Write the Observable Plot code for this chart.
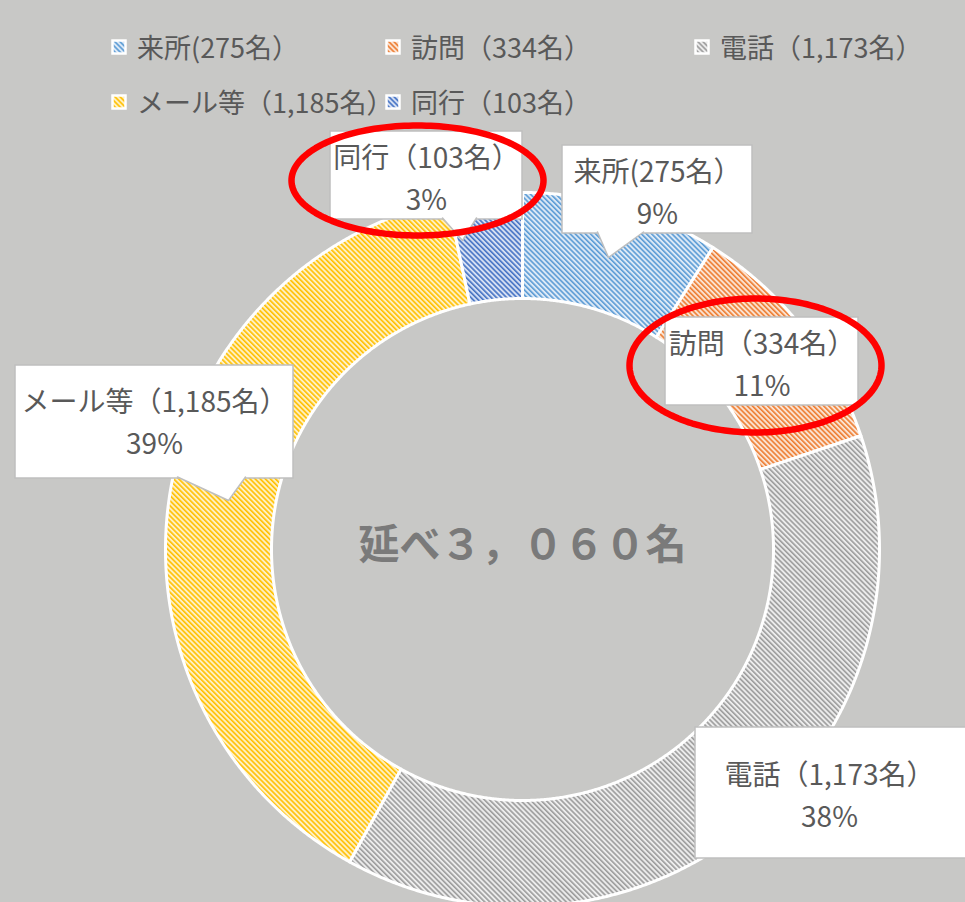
<!DOCTYPE html>
<html><head><meta charset="utf-8">
<script src="https://cdn.jsdelivr.net/npm/d3@7"></script>
<script src="https://cdn.jsdelivr.net/npm/@observablehq/plot@0.6"></script>
<style>
html,body{margin:0;padding:0;}
body{width:965px;height:902px;overflow:hidden;background:#c8c8c6;font-family:"Noto Sans CJK JP","Noto Sans",sans-serif;}
#legend{position:relative;height:118px;width:965px;}
.item{position:absolute;display:flex;align-items:center;font-size:27px;line-height:36px;color:#595959;white-space:nowrap;}
.item svg{margin-right:10px;}
#chart svg{display:block;}
</style></head><body>
<div id="legend"></div>
<div id="chart"></div>
<script>
// ---- data ----
const categories = ["来所", "訪問", "電話", "メール等", "同行"];
const counts = [275, 334, 1173, 1185, 103];
const legendLabels = ["来所(275名）", "訪問（334名）", "電話（1,173名）", "メール等（1,185名）", "同行（103名）"];
const countLabels = ["来所(275名）", "訪問（334名）", "電話（1,173名）", "メール等（1,185名）", "同行（103名）"];
const percentLabels = ["9%", "11%", "38%", "39%", "3%"];
const totalLabel = "延べ３，０６０名";

// ---- styles ----
const stripeColors = ["#5b9bd5", "#ed7d31", "#9c9c9c", "#ffc000", "#4472c4"];
const stripeBg = ["#dce9f6", "#fbe2d1", "#ececec", "#fff0c2", "#d5dff2"];

// ---- layout (page pixels) ----
const W = 965, H = 902, legendH = 118, svgH = H - legendH;
const cx = 522, cy = 549, rOuter = 357, rInner = 251;
const legendPos = [[111, 47], [385, 47], [694, 47], [111, 102], [385, 102]];
// callout boxes: [x1, x2, y1, y2] per category
const boxes = [[562, 752, 145, 233], [665, 858, 317, 405], [695, 975, 727, 858], [15, 293, 365, 478], [330, 522, 131, 219]];
// pointers: [baseLeftX, baseRightX, baseY, tipX, tipY] (null = none)
const pointers = [[597, 643, 233, 608, 257], null, null, [177, 245, 478, 228, 500], [442, 476, 219, 462, 240]];
// red annotation ellipses: [centerX, centerY, rx, ry]
const ellipses = [[417, 180, 126, 55], [755, 365, 126, 67]];

// page px -> data units (offset from centre, y up)
const tx = px => px - cx;
const ty = py => cy - py;

// ---- legend (HTML) ----
const legend = document.getElementById("legend");
legendLabels.forEach((lab, i) => {
  const d = document.createElement("div");
  d.className = "item";
  d.style.left = legendPos[i][0] + "px";
  d.style.top = (legendPos[i][1] - 18) + "px";
  d.innerHTML = `<svg width="16" height="16"><rect x="1.5" y="1.5" width="13" height="13" fill="url(#pat${i})" stroke="white" stroke-width="2.5"/></svg><span>${lab}</span>`;
  legend.appendChild(d);
});

// ---- slices ----
const arcs = d3.pie().sort(null).value(d => d)(counts);
const sliceRows = [];
arcs.forEach((a, i) => {
  const n = Math.max(4, Math.ceil((a.endAngle - a.startAngle) / 0.005));
  const pts = [];
  for (let k = 0; k <= n; k++) {
    const t = a.startAngle + (a.endAngle - a.startAngle) * k / n;
    pts.push([rOuter * Math.sin(t), rOuter * Math.cos(t)]);
  }
  for (let k = n; k >= 0; k--) {
    const t = a.startAngle + (a.endAngle - a.startAngle) * k / n;
    pts.push([rInner * Math.sin(t), rInner * Math.cos(t)]);
  }
  pts.push(pts[0]);
  pts.forEach(([x, y]) => sliceRows.push({key: categories[i], x, y, fill: `url(#pat${i})`}));
});

// callout rows
const boxRows = boxes.map((b, i) => ({x1: tx(b[0]), x2: tx(b[1]), y1: ty(b[2]), y2: ty(b[3])}));
const pointerRows = [];
pointers.forEach((p, i) => {
  if (!p) return;
  pointerRows.push({key: i, x: tx(p[0]), y: ty(p[2] - 1.5)});
  pointerRows.push({key: i, x: tx(p[3]), y: ty(p[4])});
  pointerRows.push({key: i, x: tx(p[1]), y: ty(p[2] - 1.5)});
});
const labelRows = categories.map((c, i) => ({
  x: tx((boxes[i][0] + Math.min(boxes[i][1], W + 20)) / 2 - (i === 2 ? 6 : 0)),
  y: ty((boxes[i][2] + boxes[i][3]) / 2 + (i === 3 ? -2 : 0)),
  text: countLabels[i] + "\n" + percentLabels[i]
}));
const ellipseRows = [];
ellipses.forEach((e, j) => {
  for (let k = 0; k <= 180; k++) {
    const t = 2 * Math.PI * k / 180;
    ellipseRows.push({key: j, x: tx(e[0] + e[2] * Math.cos(t)), y: ty(e[1] + e[3] * Math.sin(t))});
  }
});

const chart = Plot.plot({
  width: W,
  height: svgH,
  margin: 0,
  style: {background: "transparent", overflow: "visible"},
  x: {domain: [tx(0), tx(W)], range: [0, W], axis: null},
  y: {domain: [ty(H), ty(legendH)], range: [svgH, 0], axis: null},
  color: {type: "identity"},
  marks: [
    Plot.line(sliceRows, {x: "x", y: "y", z: "key", fill: "fill", stroke: "white", strokeWidth: 3, curve: "linear"}),
    Plot.text([totalLabel], {x: 0, y: ty(545), text: d => d, fontSize: 41, fontWeight: "bold", fill: "#7a7a7a", fontFamily: "Noto Sans CJK JP"}),
    Plot.rect(boxRows, {x1: "x1", x2: "x2", y1: "y1", y2: "y2", fill: "white", stroke: "#bfbfbf", strokeWidth: 1.5}),
    Plot.line(pointerRows, {x: "x", y: "y", z: "key", fill: "white", stroke: "#bfbfbf", strokeWidth: 1.5, curve: "linear"}),
    Plot.text(labelRows, {x: "x", y: "y", text: "text", fontSize: 28, lineHeight: 1.5, fill: "#595959", fontFamily: "Noto Sans CJK JP"}),
    Plot.line(ellipseRows, {x: "x", y: "y", z: "key", stroke: "#ff0000", strokeWidth: 6.5, curve: "linear"})
  ]
});

// hatch patterns ("\" direction)
const defs = stripeColors.map((c, i) =>
  `<pattern id="pat${i}" patternUnits="userSpaceOnUse" width="3.6" height="3.6" patternTransform="rotate(-45)">` +
  `<rect width="3.6" height="3.6" fill="${stripeBg[i]}"/><rect x="0" y="0" width="1.6" height="3.6" fill="${c}"/></pattern>`
).join("");
chart.insertAdjacentHTML("afterbegin", `<defs>${defs}</defs>`);
document.getElementById("chart").appendChild(chart);
</script>
</body></html>
